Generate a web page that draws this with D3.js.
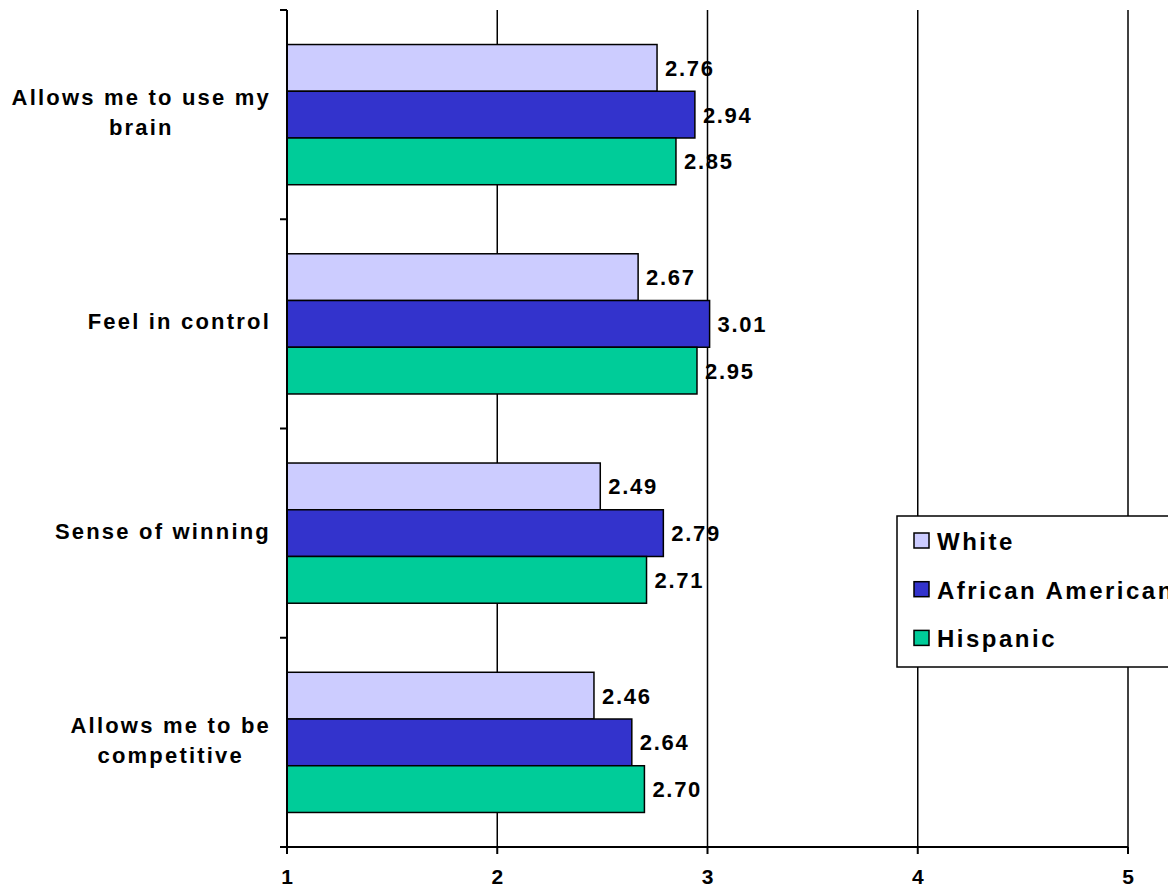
<!DOCTYPE html>
<html>
<head>
<meta charset="utf-8">
<script src="https://cdn.jsdelivr.net/npm/d3@7"></script>
<style>
  html, body { margin: 0; padding: 0; background: #fff; }
  svg { display: block; }
  text { font-family: "Liberation Sans", Arial, sans-serif; font-weight: bold; fill: #000; }
</style>
</head>
<body>
<svg id="chart" width="1168" height="887"></svg>
<script>
// Reasons for playing, mean rating (1-5 scale) by group
const categories = [
  ["Allows me to use my", "brain"],
  ["Feel in control"],
  ["Sense of winning"],
  ["Allows me to be", "competitive"]
];
const seriesNames = ["White", "African American", "Hispanic"];
const white = [2.76, 2.67, 2.49, 2.46];
const africanAmerican = [2.94, 3.01, 2.79, 2.64];
const hispanic = [2.85, 2.95, 2.71, 2.70];
const xTicks = [1, 2, 3, 4, 5];
const colors = ["#CCCCFF", "#3333CC", "#00CC99"];

const seriesValues = [white, africanAmerican, hispanic];
const catKeys = categories.map(c => c.join(" "));

const svg = d3.select("#chart");
const plot = { left: 287, right: 1128, top: 10, bottom: 847 };

const x = d3.scaleLinear().domain([1, 5]).range([plot.left, plot.right]);
const y = d3.scaleBand().domain(catKeys).range([plot.top, plot.bottom])
  .paddingInner(0.33).paddingOuter(0.165);
const ySub = d3.scaleBand().domain(seriesNames).range([0, y.bandwidth()]).padding(0);

// vertical gridlines
svg.append("g").selectAll("line")
  .data(xTicks.slice(1))
  .join("line")
  .attr("x1", d => x(d)).attr("x2", d => x(d))
  .attr("y1", plot.top).attr("y2", plot.bottom)
  .attr("stroke", "#000").attr("stroke-width", 1.5);

// bars
const groups = svg.append("g").selectAll("g")
  .data(catKeys)
  .join("g")
  .attr("transform", d => `translate(0,${y(d)})`);

groups.each(function(key, ci) {
  const g = d3.select(this);
  seriesNames.forEach((name, si) => {
    const v = seriesValues[si][ci];
    g.append("rect")
      .attr("x", x(1))
      .attr("y", ySub(name))
      .attr("width", x(v) - x(1))
      .attr("height", ySub.bandwidth())
      .attr("fill", colors[si])
      .attr("stroke", "#000")
      .attr("stroke-width", 1.5);
    g.append("text")
      .attr("x", x(v) + 8)
      .attr("y", ySub(name) + ySub.bandwidth() / 2 + 8)
      .attr("font-size", 22)
      .attr("letter-spacing", 1.7)
      .text(v.toFixed(2));
  });
});

// left axis with ticks at category boundaries
const step = y.step();
const boundaries = d3.range(catKeys.length + 1).map(i => plot.top + i * step);
svg.append("line")
  .attr("x1", plot.left).attr("x2", plot.left)
  .attr("y1", plot.top).attr("y2", plot.bottom)
  .attr("stroke", "#000").attr("stroke-width", 2);
svg.append("g").selectAll("line")
  .data(boundaries)
  .join("line")
  .attr("x1", plot.left - 7).attr("x2", plot.left)
  .attr("y1", d => d).attr("y2", d => d)
  .attr("stroke", "#000").attr("stroke-width", 2);

// bottom axis
const xAxis = svg.append("g").attr("transform", `translate(0,${plot.bottom})`);
xAxis.append("line")
  .attr("x1", plot.left - 7).attr("x2", plot.right)
  .attr("stroke", "#000").attr("stroke-width", 2);
xAxis.selectAll("line.tick")
  .data(xTicks)
  .join("line")
  .attr("class", "tick")
  .attr("x1", d => x(d)).attr("x2", d => x(d))
  .attr("y1", 0).attr("y2", 7)
  .attr("stroke", "#000").attr("stroke-width", 2);
xAxis.selectAll("text")
  .data(xTicks)
  .join("text")
  .attr("x", d => x(d))
  .attr("y", 37)
  .attr("text-anchor", "middle")
  .attr("font-size", 21)
  .text(d => d);

// category labels, lines centred as a block ending near the axis
const labelRight = 270;
categories.forEach((lines, ci) => {
  const cy = y(catKeys[ci]) + y.bandwidth() / 2;
  const t = svg.append("text")
    .attr("font-size", 22)
    .attr("letter-spacing", 2.2)
    .attr("text-anchor", "middle");
  lines.forEach((ln, li) => {
    t.append("tspan")
      .attr("y", cy + 5.5 + (li - (lines.length - 1) / 2) * 30)
      .text(ln);
  });
  let maxW = 0;
  t.selectAll("tspan").each(function() {
    maxW = Math.max(maxW, this.getComputedTextLength());
  });
  t.selectAll("tspan").attr("x", labelRight - maxW / 2 + 1);
});

// legend
const legend = svg.append("g").attr("transform", "translate(897,516)");
legend.append("rect")
  .attr("x", 0).attr("y", 0)
  .attr("width", 320).attr("height", 151)
  .attr("fill", "#fff").attr("stroke", "#000").attr("stroke-width", 1.5);
seriesNames.forEach((name, i) => {
  const row = legend.append("g").attr("transform", `translate(0,${17 + i * 48.7})`);
  row.append("rect")
    .attr("x", 17).attr("y", 0)
    .attr("width", 15).attr("height", 15)
    .attr("fill", colors[i]).attr("stroke", "#000").attr("stroke-width", 1.5);
  row.append("text")
    .attr("x", 40).attr("y", 17)
    .attr("font-size", 24)
    .attr("letter-spacing", 2.5)
    .text(name);
});
</script>
</body>
</html>
